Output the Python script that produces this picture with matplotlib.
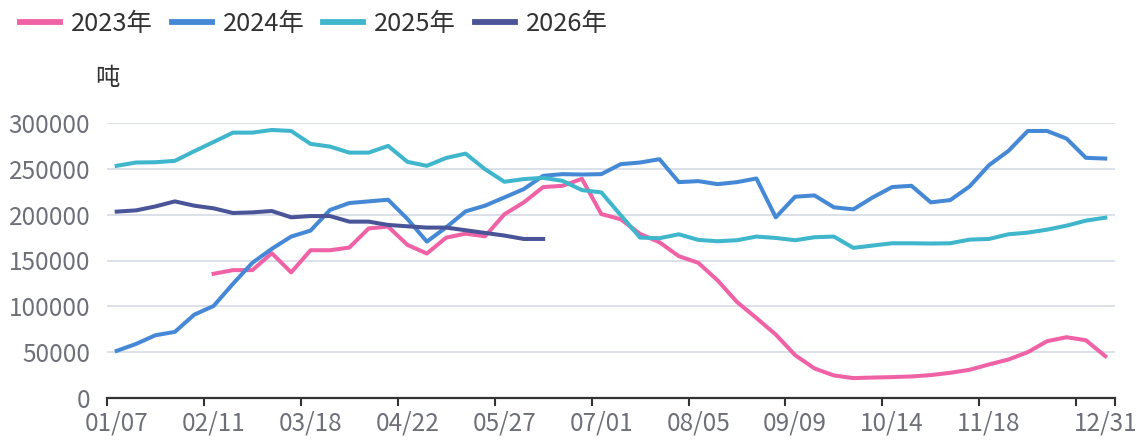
import numpy as np
import matplotlib.pyplot as plt
from matplotlib.lines import Line2D

plt.rcParams['font.family'] = ['Noto Sans CJK SC', 'DejaVu Sans']

# Semaines (catégories de l'axe X)
semaines = ['01/07', '01/14', '01/21', '01/28', '02/04', '02/11', '02/18', '02/25',
            '03/04', '03/11', '03/18', '03/25', '04/01', '04/08', '04/15', '04/22',
            '04/29', '05/06', '05/13', '05/20', '05/27', '06/03', '06/10', '06/17',
            '06/24', '07/01', '07/08', '07/15', '07/22', '07/29', '08/05', '08/12',
            '08/19', '08/26', '09/02', '09/09', '09/16', '09/23', '09/30', '10/07',
            '10/14', '10/21', '10/28', '11/04', '11/11', '11/18', '11/25', '12/02',
            '12/09', '12/16', '12/23', '12/31']

nan = np.nan
v2023 = [nan, nan, nan, nan, nan,
         135500, 139500, 139500, 158000, 137000, 161200, 161200, 164100, 185000, 187000,
         167000, 157600, 175000, 179300, 176400, 200400, 213400, 230100, 231500, 239100,
         200700, 195000, 179000, 169900, 154700, 147500, 128300, 104700, 87300, 69200,
         46700, 32200, 24600, 21700, 22300, 22800, 23500, 25000, 27500, 30800,
         36600, 42000, 50000, 62000, 66300, 63000, 45600]
v2024 = [51400, 59000, 68500, 72100, 90900, 100400, 124600, 147500, 162700, 176100,
         182600, 205100, 212700, 214500, 216300, 195300, 170600, 186200, 203600, 209800,
         218800, 227900, 242400, 244200, 243800, 244200, 255100, 256900, 260500, 235500,
         236600, 233300, 235500, 239500, 197100, 219600, 221000, 208000, 205800, 218800,
         230100, 231500, 213400, 215900, 230800, 254000, 269500, 291300, 291300, 283000,
         262000, 261200]
v2025 = [253300, 256900, 257200, 258700, 269200, 279300, 289500, 289500, 292400, 291300,
         277200, 274300, 267700, 267700, 275000, 257600, 253300, 261900, 266600, 249600,
         235900, 238800, 240200, 236900, 226800, 224300, 199500, 175000, 174300, 178600,
         172500, 171000, 172100, 176100, 174600, 172100, 175400, 176100, 163800, 166300,
         168800, 168800, 168500, 168800, 172800, 173500, 178600, 180400, 183700, 188000,
         193500, 196700]
v2026 = [203300, 204700, 209000, 214500, 209800, 206900, 201800, 202500, 204000, 197100,
         198500, 198500, 192400, 192400, 188800, 187300, 185900, 185900, 183000, 180100,
         177200, 173500, 173500]

series = [('2023年', v2023, '#f062a6'),
          ('2024年', v2024, '#4589d6'),
          ('2025年', v2025, '#3fb6cc'),
          ('2026年', v2026, '#4a5599')]

W, H = 1140, 440
fig = plt.figure(figsize=(W / 100, H / 100), dpi=100)
ax = fig.add_axes([107 / W, 1 - 398 / H, (1115 - 107) / W, (398 - 123) / H])

fs = 17.5
txt_gris = '#6e7079'

for nom, vals, couleur in series:
    x = np.arange(len(vals))
    ax.plot(x, vals, color=couleur, lw=2.9, solid_joinstyle='round', label=nom, zorder=3)

ax.set_xlim(-0.5, len(semaines) - 0.5)
ax.set_ylim(0, 300000)

# Axe X : étiquettes au centre des catégories, graduations aux bords
pos_labels = list(range(0, 50, 5)) + [len(semaines) - 1]
ax.set_xticks(pos_labels)
ax.set_xticklabels([semaines[i] for i in pos_labels])
ax.set_xticks([i - 0.5 for i in range(0, 51, 5)] + [len(semaines) - 0.5], minor=True)
ax.tick_params(axis='x', which='major', length=0, pad=9, labelsize=fs, labelcolor=txt_gris)
ax.tick_params(axis='x', which='minor', length=6, width=1.5, color='#333333', direction='out')

# Axe Y
ax.set_yticks(np.arange(0, 300001, 50000))
ax.set_yticklabels([str(v) for v in range(0, 300001, 50000)])
ax.tick_params(axis='y', length=0, pad=12, labelsize=fs, labelcolor=txt_gris)
ax.grid(axis='y', color='#d6dae5', lw=1.2)
ax.set_axisbelow(True)

for cote in ['left', 'right', 'top']:
    ax.spines[cote].set_visible(False)
ax.spines['bottom'].set_color('#333333')
ax.spines['bottom'].set_linewidth(1.6)
ax.spines['bottom'].set_zorder(4)

fig.text(107 / W, 1 - 78 / H, '吨', ha='center', va='center', fontsize=fs, color='#333333')

# Légende en haut à gauche
poignees = [Line2D([], [], color=c, lw=4.2) for _, _, c in series]
fig.legend(poignees, [n for n, _, _ in series], loc='center left',
           bbox_to_anchor=(20 / W, 1 - 24 / H), ncol=4, frameon=False,
           fontsize=18.3, labelcolor='#333333', borderpad=0, borderaxespad=0,
           handlelength=1.57, handletextpad=0.43, columnspacing=0.75)

fig.savefig('out.png', dpi=100)
